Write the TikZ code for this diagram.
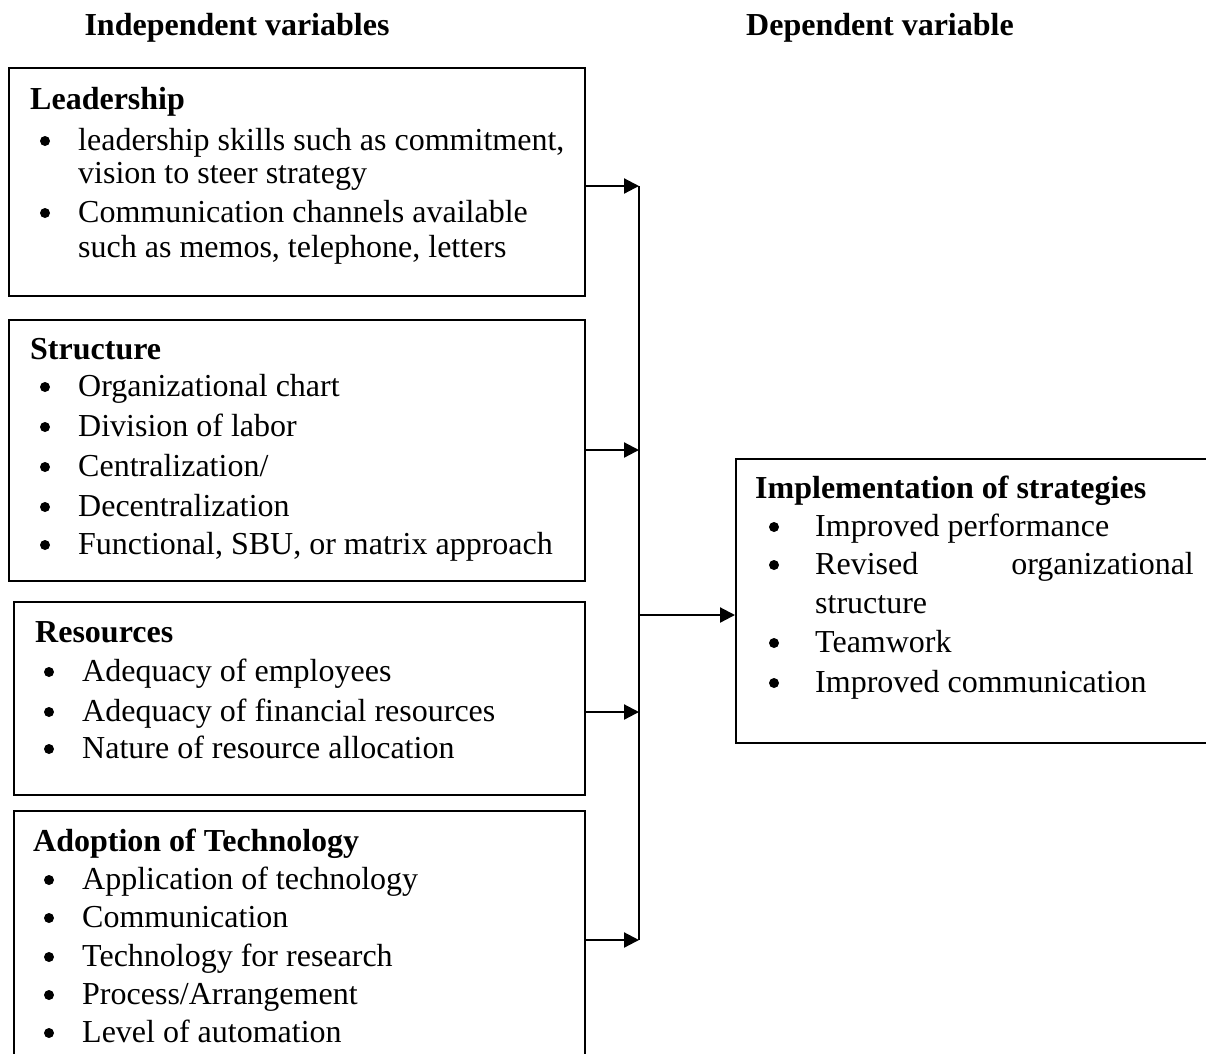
\documentclass[tikz,border=0pt]{standalone}
\usepackage{fontspec}
\setmainfont{Liberation Serif}
\usetikzlibrary{arrows.meta}
\begin{document}
\begin{tikzpicture}[x=1pt,y=-1pt,
  box/.style={draw, line width=1.6pt, anchor=north west, inner sep=0pt},
  title/.style={anchor=base, inner sep=0pt, font=\fontsize{32}{38}\selectfont\bfseries},
  head/.style={anchor=base west, inner sep=0pt, font=\fontsize{32}{38}\selectfont\bfseries},
  item/.style={anchor=base west, inner sep=0pt, font=\fontsize{32}{38}\selectfont},
  dot/.style={circle, fill, inner sep=0pt, minimum size=10pt, yshift=9pt},
  conn/.style={line width=2.2pt},
  arr/.style={conn, -{Triangle[length=15pt,width=15pt]}}]
\useasboundingbox (0,0) rectangle (1206,1053);
\begin{scope}[yshift=-2pt]
% column titles
\node[title] (tind) at (237,33) {Independent variables};
\node[title] (tdep) at (880,33) {Dependent variable};

% Leadership
\node[head] (h1) at (30,107) {Leadership};
\node[dot] (b11) at (45,148) {};
\node[item] (t11) at (78,148) {leadership skills such as commitment,};
\node[item] (t12) at (78,181) {vision to steer strategy};
\node[dot] (b12) at (45,220) {};
\node[item] (t13) at (78,220) {Communication channels available};
\node[item] (t14) at (78,255) {such as memos, telephone, letters};

% Structure
\node[head] (h2) at (30,357) {Structure};
\node[dot] (b21) at (45,394) {};
\node[item] (t21) at (78,394) {Organizational chart};
\node[dot] (b22) at (45,434) {};
\node[item] (t22) at (78,434) {Division of labor};
\node[dot] (b23) at (45,474) {};
\node[item] (t23) at (78,474) {Centralization/};
\node[dot] (b24) at (45,514) {};
\node[item] (t24) at (78,514) {Decentralization};
\node[dot] (b25) at (45,552) {};
\node[item] (t25) at (78,552) {Functional, SBU, or matrix approach};

% Resources
\node[head] (h3) at (35,640) {Resources};
\node[dot] (b31) at (49,679) {};
\node[item] (t31) at (82,679) {Adequacy of employees};
\node[dot] (b32) at (49,719) {};
\node[item] (t32) at (82,719) {Adequacy of financial resources};
\node[dot] (b33) at (49,756) {};
\node[item] (t33) at (82,756) {Nature of resource allocation};

% Adoption of Technology
\node[head] (h4) at (33,849) {Adoption of Technology};
\node[dot] (b41) at (49,887) {};
\node[item] (t41) at (82,887) {Application of technology};
\node[dot] (b42) at (49,925) {};
\node[item] (t42) at (82,925) {Communication};
\node[dot] (b43) at (49,964) {};
\node[item] (t43) at (82,964) {Technology for research};
\node[dot] (b44) at (49,1002) {};
\node[item] (t44) at (82,1002) {Process/Arrangement};
\node[dot] (b45) at (49,1040) {};
\node[item] (t45) at (82,1040) {Level of automation};

% Implementation of strategies
\node[head] (h5) at (755,496) {Implementation of strategies};
\node[dot] (b51) at (774,534) {};
\node[item] (t51) at (815,534) {Improved performance};
\node[dot] (b52) at (774,572) {};
\node[item] (t52) at (815,572) {Revised};
\node[item, anchor=base east] (t52b) at (1194,572) {organizational};
\node[item] (t53) at (815,611) {structure};
\node[dot] (b53) at (774,650) {};
\node[item] (t54) at (815,650) {Teamwork};
\node[dot] (b54) at (774,690) {};
\node[item] (t55) at (815,690) {Improved communication};
\end{scope}

% boxes
\node[box, minimum width=576pt, minimum height=228pt] (lead) at (8,67) {};
\node[box, minimum width=576pt, minimum height=261pt] (struct) at (8,319) {};
\node[box, minimum width=571pt, minimum height=193pt] (res) at (13,601) {};
\node[box, minimum width=571pt, minimum height=300pt] (tech) at (13,810) {};
\node[box, minimum width=490pt, minimum height=284pt] (impl) at (735,458) {};

% collecting line
\coordinate (s1) at (639,186);
\coordinate (s2) at (639,450);
\coordinate (s3) at (639,712);
\coordinate (s4) at (639,940);
\coordinate (sm) at (639,615);

\draw[conn] (s1) -- (s4);
\draw[arr] (lead.east |- s1) -- (s1);
\draw[arr] (struct.east |- s2) -- (s2);
\draw[arr] (res.east |- s3) -- (s3);
\draw[arr] (tech.east |- s4) -- (s4);
\draw[arr] (sm) -- (impl.west |- sm);
\end{tikzpicture}
\end{document}
